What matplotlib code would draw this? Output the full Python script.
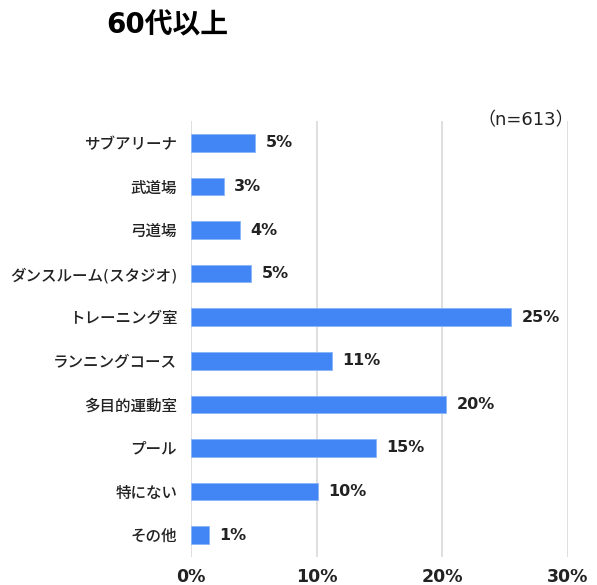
import matplotlib
matplotlib.use("Agg")
from matplotlib import pyplot as plt
from matplotlib.ticker import FuncFormatter

plt.rcParams['font.family'] = ['DejaVu Sans', 'Noto Sans CJK JP']

# data
categories = ["サブアリーナ", "武道場", "弓道場", "ダンスルーム(スタジオ)", "トレーニング室",
              "ランニングコース", "多目的運動室", "プール", "特にない", "その他"]
values = [5.1, 2.6, 3.9, 4.8, 25.5, 11.2, 20.3, 14.7, 10.1, 1.4]
labels = ["5%", "3%", "4%", "5%", "25%", "11%", "20%", "15%", "10%", "1%"]
xticks = [0, 10, 20, 30]

fig = plt.figure(figsize=(5.97, 5.85), dpi=100)
ax = fig.add_axes([0.32, 0.048, 0.631, 0.745])

pos = list(range(len(categories)))
ax.barh(pos, values, height=0.4, color="#4285f4", edgecolor="#8ab4f8", linewidth=0.6, zorder=3)

for p, v, lab in zip(pos, values, labels):
    ax.text(v + 0.85, p, lab, va="center", ha="left", fontsize=11.5, fontweight="bold", color="#222222")

ax.set_ylim(len(categories) - 0.5, -0.5)
ax.set_yticks(pos)
ax.set_yticklabels(categories, fontsize=11.2, color="#222222", fontweight="medium")
ax.set_xlim(0, 30)
ax.set_xticks(xticks)
ax.xaxis.set_major_formatter(FuncFormatter(lambda x, _: "%d%%" % x))
ax.tick_params(axis="x", labelsize=12.5, length=0, pad=8, colors="#222222")
for t in ax.get_xticklabels():
    t.set_fontweight("bold")
ax.tick_params(axis="y", length=0, pad=10)
ax.grid(axis="x", color="#d9d9d9", linewidth=1.2, zorder=0)
for s in ax.spines.values():
    s.set_visible(False)

fig.text(0.178, 0.956, "60代以上", fontsize=20, fontweight="bold", va="center", ha="left")
fig.text(0.962, 0.795, "（n=613）", fontsize=13, va="center", ha="right", color="#222222")

plt.savefig("out.png", dpi=100)
